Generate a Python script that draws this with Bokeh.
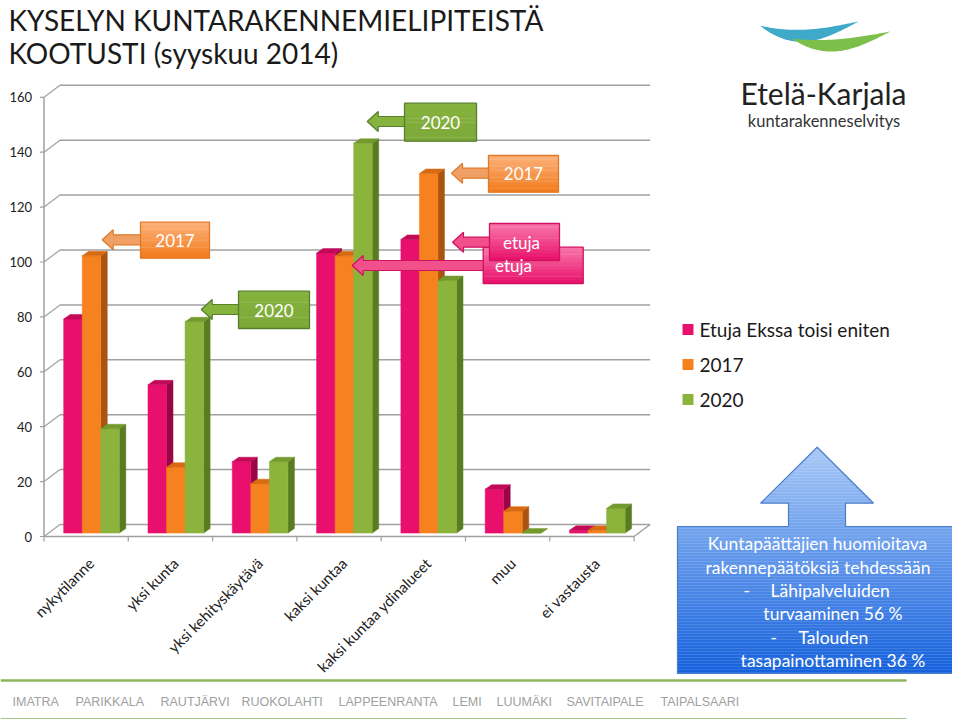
import numpy as np
from bokeh.plotting import figure
from bokeh.models import Range1d
from bokeh.core.properties import value
from bokeh.embed import file_html
from bokeh.resources import INLINE

# ---------------- data ----------------
categories = ["nykytilanne", "yksi kunta", "yksi kehityskäytävä", "kaksi kuntaa",
              "kaksi kuntaa ydinalueet", "muu", "ei vastausta"]
series_names = ["Etuja Ekssa toisi eniten", "2017", "2020"]
etuja = [78, 54, 26, 102, 107, 16, 1]
v2017 = [101, 24, 18, 101, 131, 8, 1]
v2020 = [38, 77, 26, 142, 92, 0, 9]
y_ticks = [0, 20, 40, 60, 80, 100, 120, 140, 160]
title_lines = ["KYSELYN KUNTARAKENNEMIELIPITEISTÄ", "KOOTUSTI (syyskuu 2014)"]
callout_labels = ["2017", "2020", "2020", "2017", "etuja", "etuja"]
note_lines = ["Kuntapäättäjien huomioitava", "rakennepäätöksiä tehdessään",
              "-", "Lähipalveluiden", "turvaaminen 56 %", "-", "Talouden",
              "tasapainottaminen 36 %"]
municipalities = ["IMATRA", "PARIKKALA", "RAUTJÄRVI", "RUOKOLAHTI", "LAPPEENRANTA",
                  "LEMI", "LUUMÄKI", "SAVITAIPALE", "TAIPALSAARI"]
logo_title = "Etelä-Karjala"
logo_sub = "kuntarakenneselvitys"

# ---------------- style / layout ----------------
FONT = "Lato"
front_cols = ["#E8106C", "#F5821F", "#8CB43C"]
top_cols = ["#C20A58", "#D86A12", "#739A2C"]
side_cols = ["#9A0546", "#A95410", "#5A7C20"]

W, H = 952, 719
X0, PXC = 43.5, 84.3      # image x of category 0 edge, px per category
Y0, PXV = 536.0, 2.745    # image y of value 0, px per value unit

p = figure(width=W, height=H, x_range=Range1d(0, W), y_range=Range1d(H, 0),
           output_backend="svg", toolbar_location=None, min_border=0,
           x_axis_location=None, y_axis_location=None)
p.grid.visible = False
p.outline_line_color = None
p.background_fill_color = "white"
p.border_fill_color = "white"
p.extra_x_ranges = {"c": Range1d((0 - X0) / PXC, (W - X0) / PXC)}
p.extra_y_ranges = {"v": Range1d((Y0 - H) / PXV, (Y0 - 0) / PXV)}
CV = dict(x_range_name="c", y_range_name="v")

ncat = len(categories)
WDX, WDY = 16 / PXC, 12 / PXV
GRID = "#A0A0A0"

# back-wall gridlines
p.segment(x0=[WDX] * len(y_ticks), y0=[t + WDY for t in y_ticks],
          x1=[ncat + WDX] * len(y_ticks), y1=[t + WDY for t in y_ticks],
          line_color=GRID, line_width=1.5, **CV)
# diagonal tick connectors and small ticks
p.segment(x0=[0] * len(y_ticks), y0=y_ticks, x1=[WDX] * len(y_ticks),
          y1=[t + WDY for t in y_ticks], line_color=GRID, line_width=1.2, **CV)
p.segment(x0=[-4 / PXC] * len(y_ticks), y0=y_ticks, x1=[0] * len(y_ticks), y1=y_ticks,
          line_color=GRID, line_width=1.2, **CV)
# front value axis
p.segment(x0=[0], y0=[0], x1=[0], y1=[y_ticks[-1]], line_color=GRID, line_width=1.5, **CV)
# floor
p.segment(x0=[0, ncat], y0=[0, 0], x1=[ncat, ncat + WDX], y1=[0, WDY],
          line_color=GRID, line_width=1.5, **CV)
p.segment(x0=list(range(ncat + 1)), y0=[0] * (ncat + 1), x1=list(range(ncat + 1)),
          y1=[-5 / PXV] * (ncat + 1), line_color=GRID, line_width=1.2, **CV)

# y tick labels
p.text(x=[-12 / PXC] * len(y_ticks), y=y_ticks, text=[str(t) for t in y_ticks],
       text_align="right", text_baseline="middle", text_font=value(FONT),
       text_font_size="13px", text_color="#222222", **CV)

# 3D bars
BW, G0 = 0.22, 0.18
OX, OY = 4.5 / PXC, 3.4 / PXV
DX, DY = 6.5 / PXC, 4.5 / PXV
xs, ys, cols = [], [], []
series = [etuja, v2017, v2020]
for i in range(ncat):
    for j, s in enumerate(series):
        v = s[i]
        l = i + G0 + j * BW + OX
        r = l + BW
        b = OY
        t = v + OY
        xs.append([r, r + DX, r + DX, r]); ys.append([b, b + DY, t + DY, t]); cols.append(side_cols[j])
        xs.append([l, r, r, l]); ys.append([b, b, t, t]); cols.append(front_cols[j])
        xs.append([l, r, r + DX, l + DX]); ys.append([t, t, t + DY, t + DY]); cols.append(top_cols[j])
p.patches(xs=xs, ys=ys, fill_color=cols, line_color=cols, line_width=0.5, **CV)

# category labels (rotated 45 degrees)
p.text(x=[i + 0.5 + 5 / PXC for i in range(ncat)], y=[-24 / PXV] * ncat, text=categories,
       angle=np.pi / 4, text_align="right", text_baseline="middle",
       text_font=value(FONT), text_font_size="15px", text_color="#222222", **CV)

# ---------------- callouts ----------------
def lerp_col(c1, c2, f):
    a = [int(c1[k:k + 2], 16) for k in (1, 3, 5)]
    b = [int(c2[k:k + 2], 16) for k in (1, 3, 5)]
    return "#%02x%02x%02x" % tuple(int(round(a[k] + (b[k] - a[k]) * f)) for k in range(3))

def grad_rect(x0, x1, y0, y1, ctop, cbot, border, n=10):
    hs = (y1 - y0) / n
    p.quad(left=[x0] * n, right=[x1] * n, top=[y0 + k * hs for k in range(n)],
           bottom=[y0 + (k + 1) * hs + 0.3 for k in range(n)],
           fill_color=[lerp_col(ctop, cbot, (k + 0.5) / n) for k in range(n)], line_color=None)
    p.quad(left=[x0], right=[x1], top=[y0], bottom=[y1], fill_color=None,
           line_color=border, line_width=1.3)

def left_arrow(tx, ty, bx, fill, border, hl=11, hh=10, sh=5):
    axs = [tx, tx + hl, tx + hl, bx, bx, tx + hl, tx + hl]
    ays = [ty, ty - hh, ty - sh, ty - sh, ty + sh, ty + sh, ty + hh]
    p.patch(axs, ays, fill_color=fill, line_color=border, line_width=1.2)

styles = {
    "o": ("#FBB27C", "#F27A1A", "#F0A064", "#E07A2A"),
    "g": ("#86B23E", "#7CA838", "#86B23E", "#56802A"),
    "p": ("#F878AA", "#E8106A", "#F2508A", "#D01060"),
}
callout_style = ["o", "g", "g", "o", "p", "p"]
boxes = [(140, 209, 221.7, 257.7), (238, 309, 290.7, 328), (404, 476, 102.7, 140.7),
         (488, 558, 155, 191.7), (482.7, 582.7, 246.7, 283), (489, 559, 223, 260)]
tips = [(101.7, 239.3), (200.7, 309), (366.7, 121), (451, 172.7), (351.7, 265), (452, 241.7)]
text_pos = [(174.5, 239.5), (273.5, 309.5), (440, 121.5), (523, 173), (513, 265), (521, 241.5)]

for k in range(len(boxes)):
    ctop, cbot, afill, bord = styles[callout_style[k]]
    x0, x1, y0, y1 = boxes[k]
    left_arrow(tips[k][0], tips[k][1], x0 + 1, afill, bord)
    grad_rect(x0, x1, y0, y1, ctop, cbot, bord)
p.text(x=[t[0] for t in text_pos], y=[t[1] for t in text_pos], text=callout_labels,
       text_align="center", text_baseline="middle", text_font=value(FONT),
       text_font_size="17px", text_color="white")

# ---------------- legend ----------------
leg_y = [329, 364, 399]
p.quad(left=[682] * 3, right=[693] * 3, top=[y - 5.5 for y in leg_y],
       bottom=[y + 5.5 for y in leg_y], fill_color=front_cols, line_color=None)
p.text(x=[699] * 3, y=leg_y, text=series_names, text_align="left", text_baseline="middle",
       text_font=value(FONT), text_font_size="19px", text_color="#1a1a1a")

# ---------------- blue up-arrow note ----------------
tipx, tipy = 816.7, 446.7
head_y, hx0, hx1 = 502.7, 760.0, 873.0
sx0, sx1 = 788.0, 845.0
box_y0, box_y1, bx0, bx1 = 526.0, 673.0, 677.0, 956.0

def extent(y):
    if y < head_y:
        f = (y - tipy) / (head_y - tipy)
        return tipx - f * (tipx - hx0), tipx + f * (hx1 - tipx)
    if y < box_y0:
        return sx0, sx1
    return bx0, bx1

step = 1.5
ylist = np.arange(tipy, box_y1, step)
L, R, T, B, C = [], [], [], [], []
for y in ylist:
    ym = min(y + step / 2, box_y1)
    a, b = extent(ym)
    L.append(a); R.append(b); T.append(y); B.append(min(y + step + 0.4, box_y1))
    C.append(lerp_col("#A9C9F7", "#1460DC", (ym - tipy) / (box_y1 - tipy)))
p.quad(left=L, right=R, top=T, bottom=B, fill_color=C, line_color=None)
p.patch([tipx, hx1, sx1, sx1, bx1, bx1, bx0, bx0, sx0, sx0, hx0],
        [tipy, head_y, head_y, box_y0, box_y0, box_y1, box_y1, box_y0, box_y0, head_y, head_y],
        fill_color=None, line_color="#4A7CC8", line_width=1.2)

note_x = [817, 817.5, 743, 770, 832.5, 770, 798, 832.5]
note_y = [542.7, 566.7, 590, 590, 613.3, 636.7, 636.7, 660]
note_align = ["center", "center", "left", "left", "center", "left", "left", "center"]
p.text(x=note_x, y=note_y, text=note_lines, text_align=note_align, text_baseline="middle",
       text_font=value(FONT), text_font_size="17.5px", text_color="white")

# ---------------- title ----------------
p.text(x=[8, 8], y=[19, 52], text=title_lines, text_align="left", text_baseline="middle",
       text_font=value(FONT), text_font_size="28px", text_color="#1a1a1a")

# ---------------- logo ----------------
def swoosh(xl, yl, xr, yr, a1, a2, col):
    t = np.linspace(0, 1, 60)
    x = xl + (xr - xl) * t
    base = yl + (yr - yl) * t
    sk = np.sin(np.pi * t ** 0.85)
    up = base + a1 * sk
    lo = base + a2 * sk
    p.patch(list(x) + list(x[::-1]), list(up) + list(lo[::-1]), fill_color=col, line_color=None)

swoosh(760, 25, 858, 21, 6, 18, "#3FA9C9")
swoosh(792, 38, 890, 31, 4, 16, "#7CC04B")
p.text(x=[823], y=[92], text=[logo_title], text_align="center", text_baseline="middle",
       text_font=value(FONT), text_font_size="30px", text_color="#222222")
p.text(x=[823.5], y=[120], text=[logo_sub], text_align="center", text_baseline="middle",
       text_font=value(FONT), text_font_size="16.5px", text_color="#333333")

# ---------------- footer ----------------
p.segment(x0=[0, 0], y0=[680, 719], x1=[906, 906], y1=[680, 719],
          line_color="#8DB55E", line_width=2.5)
muni_x = [12, 75, 160, 241, 338, 452, 496, 566, 660]
p.text(x=muni_x, y=[701] * len(municipalities), text=municipalities, text_align="left",
       text_baseline="middle", text_font=value("Liberation Sans"), text_font_size="12.5px",
       text_color="#A0A0A0")

open("out.html", "w").write(file_html(p, INLINE))
